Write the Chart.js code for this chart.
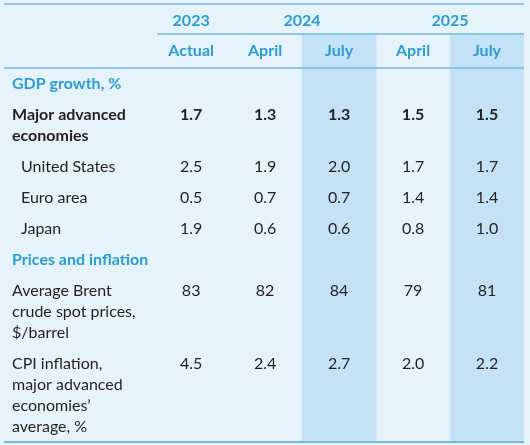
<!DOCTYPE html>
<html>
<head>
<meta charset="utf-8">
<script src="https://cdn.jsdelivr.net/npm/chart.js@4/dist/chart.umd.min.js"></script>
<style>
  html, body { margin: 0; padding: 0; background: #e6f3fb; }
  canvas { display: block; }
</style>
</head>
<body>
<canvas id="outlook" width="530" height="445"></canvas>
<script>
// ** table data **
var years = ['2023', '2024', '2025'];
var yearSpans = [1, 2, 2];
var columns = ['Actual', 'April', 'July', 'April', 'July'];
var highlighted = [false, false, true, false, true];

var rowLabels = [
  ['GDP growth, %'],
  ['Major advanced', 'economies'],
  ['United States'],
  ['Euro area'],
  ['Japan'],
  ['Prices and inflation'],
  ['Average Brent', 'crude spot prices,', '$/barrel'],
  ['CPI inflation,', 'major advanced', 'economies\u2019', 'average, %']
];
var rowKinds = ['section', 'bold', 'indent', 'indent', 'indent', 'section', 'plain', 'plain'];
var rowDecimals = [1, 1, 1, 1, 1, 1, 0, 1];

var actual2023 = [null, 1.7, 2.5, 0.5, 1.9, null, 83, 4.5];
var april2024  = [null, 1.3, 1.9, 0.7, 0.6, null, 82, 2.4];
var july2024   = [null, 1.3, 2.0, 0.7, 0.6, null, 84, 2.7];
var april2025  = [null, 1.5, 1.7, 1.4, 0.8, null, 79, 2.0];
var july2025   = [null, 1.5, 1.7, 1.4, 1.0, null, 81, 2.2];
var columnValues = [actual2023, april2024, july2024, april2025, july2025];

// ** layout in y units (px below top rule) **
var LINE = 21, ROWPAD = 10;
var yearMid = 17, yearRule = 30, monthMid = 47, headRule = 64;
var rowTops = [];
var rowCursor = headRule;
rowLabels.forEach(function (lines) {
  rowTops.push(rowCursor);
  rowCursor += lines.length * LINE + ROWPAD;
});
var tableBottom = rowCursor;
function lineMid(r, k) { return rowTops[r] + ROWPAD / 2 + LINE / 2 + k * LINE; }

var BLUE = '#2a9dd3', INK = '#231f20', RULE = '#74b8db';
var FONT = 'Lato';

var highlightData = columns.map(function (c, i) {
  return { x: i + 0.5, y: highlighted[i] ? [yearRule, tableBottom] : null };
});

var valueSets = columnValues.map(function (vals, i) {
  var pts = [];
  vals.forEach(function (v, r) {
    if (v !== null) pts.push({ x: i + 0.5, y: lineMid(r, 0), v: v.toFixed(rowDecimals[r]), row: r });
  });
  return {
    type: 'scatter',
    label: columns[i],
    data: pts,
    pointRadius: 0,
    pointHoverRadius: 0
  };
});

var tablePlugin = {
  id: 'tableText',
  beforeDraw: function (chart) {
    var c = chart.ctx;
    c.save();
    c.fillStyle = '#e6f3fb';
    c.fillRect(0, 0, chart.width, chart.height);
    c.restore();
  },
  afterDatasetsDraw: function (chart) {
    var c = chart.ctx, xs = chart.scales.x, ys = chart.scales.y;
    var left = xs.getPixelForValue(xs.min), right = xs.getPixelForValue(xs.max);
    c.save();

    // rules
    c.strokeStyle = RULE;
    function hline(yv, x0, x1, w) {
      c.lineWidth = w;
      c.beginPath();
      c.moveTo(x0, ys.getPixelForValue(yv));
      c.lineTo(x1, ys.getPixelForValue(yv));
      c.stroke();
    }
    hline(0, left, right, 1.5);
    hline(yearRule, xs.getPixelForValue(0) + 3, right, 1.5);
    hline(headRule, left, right, 1.5);
    hline(tableBottom, left, right, 2);

    c.textBaseline = 'middle';
    c.textAlign = 'center';

    // header
    c.fillStyle = BLUE;
    c.font = 'bold 16px ' + FONT;
    var start = 0;
    years.forEach(function (y, i) {
      c.fillText(y, xs.getPixelForValue(start + yearSpans[i] / 2), ys.getPixelForValue(yearMid));
      start += yearSpans[i];
    });
    columns.forEach(function (m, i) {
      c.fillText(m, xs.getPixelForValue(i + 0.5), ys.getPixelForValue(monthMid));
    });

    // values, from the scatter points
    c.fillStyle = INK;
    chart.data.datasets.forEach(function (ds, di) {
      if (ds.type !== 'scatter') return;
      var meta = chart.getDatasetMeta(di);
      meta.data.forEach(function (pt, k) {
        var r = ds.data[k].row;
        c.font = (rowKinds[r] === 'bold' ? 'bold ' : '') + '16px ' + FONT;
        c.fillText(ds.data[k].v, pt.x, pt.y);
      });
    });

    // row labels
    c.textAlign = 'left';
    rowLabels.forEach(function (lines, r) {
      var kind = rowKinds[r];
      c.fillStyle = kind === 'section' ? BLUE : INK;
      c.font = (kind === 'section' || kind === 'bold' ? 'bold ' : '') + '16px ' + FONT;
      var x = left + (kind === 'indent' ? 17 : 8);
      lines.forEach(function (t, k) {
        c.fillText(t, x, ys.getPixelForValue(lineMid(r, k)));
      });
    });
    c.restore();
  }
};

var ctx = document.getElementById('outlook');
var outlook = new Chart(ctx, {
  type: 'bar',
  data: {
    datasets: [{
      label: 'highlight',
      data: highlightData,
      backgroundColor: '#c3e2f5',
      borderWidth: 0,
      barPercentage: 1,
      categoryPercentage: 1
    }].concat(valueSets)
  },
  options: {
    responsive: false,
    animation: false,
    layout: { padding: { left: 4, right: 6, top: 4, bottom: 3 } },
    plugins: { legend: { display: false }, tooltip: { enabled: false } },
    scales: {
      x: { type: 'linear', min: -2.03, max: 5, offset: false, display: false },
      y: { type: 'linear', min: 0, max: tableBottom, reverse: true, display: false }
    }
  },
  plugins: [tablePlugin]
});
</script>
</body>
</html>
